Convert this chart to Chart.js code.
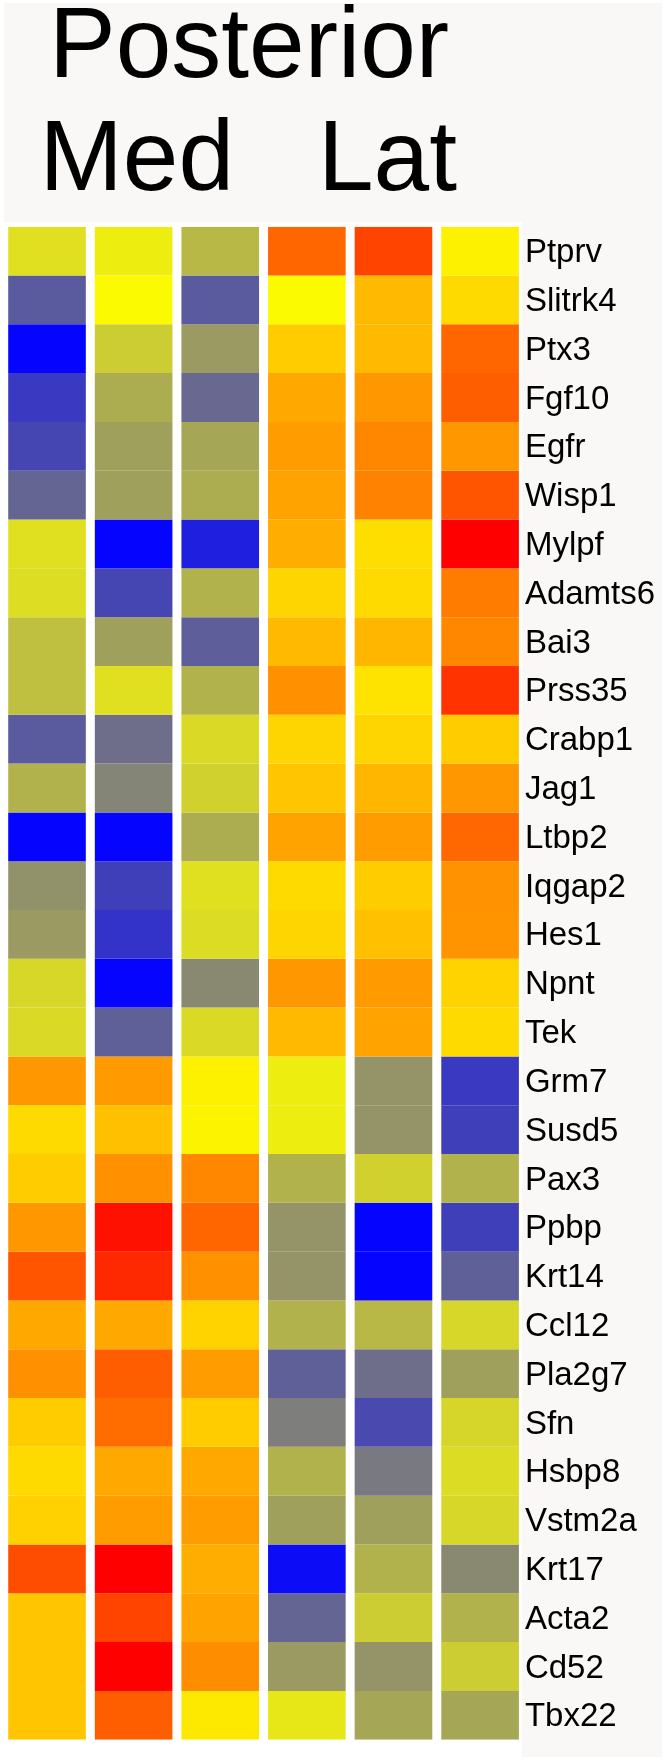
<!DOCTYPE html>
<html>
<head>
<meta charset="utf-8">
<script src="https://cdn.jsdelivr.net/npm/chart.js@4.4.0/dist/chart.umd.min.js"></script>
<style>
  html, body { margin: 0; padding: 0; background: #ffffff; }
  #wrap { width: 666px; height: 1761px; }
</style>
</head>
<body>
<div id="wrap"><canvas id="myChart" width="666" height="1761"></canvas></div>
<script>
// gene rows, top to bottom
var genes = ['Ptprv', 'Slitrk4', 'Ptx3', 'Fgf10', 'Egfr', 'Wisp1', 'Mylpf', 'Adamts6', 'Bai3', 'Prss35',
  'Crabp1', 'Jag1', 'Ltbp2', 'Iqgap2', 'Hes1', 'Npnt', 'Tek', 'Grm7', 'Susd5', 'Pax3', 'Ppbp',
  'Krt14', 'Ccl12', 'Pla2g7', 'Sfn', 'Hsbp8', 'Vstm2a', 'Krt17', 'Acta2', 'Cd52', 'Tbx22']

var columns = ['Med 1', 'Med 2', 'Med 3', 'Lat 1', 'Lat 2', 'Lat 3']

// relative expression (z-score like), one array per sample column
var med1 = [0.0, -1.2, -2.0, -1.6, -1.5, -1.05, 0.0, -0.02, -0.25, -0.25, -1.2, -0.35, -2.0, -0.62, -0.55,
  -0.07, -0.05, 1.15, 0.55, 0.7, 1.15, 1.7, 1.0, 1.22, 0.7, 0.55, 0.65, 1.75, 0.75, 0.75, 0.75]
var med2 = [0.1, 0.2, -0.15, -0.4, -0.5, -0.5, -2.0, -1.5, -0.5, 0.0, -0.95, -0.75, -2.0, -1.55, -1.65,
  -2.0, -1.12, 1.12, 0.8, 1.22, 1.95, 1.88, 1.0, 1.65, 1.55, 1.0, 1.1, 2.0, 1.8, 2.0, 1.65]
var med3 = [-0.3, -1.2, -0.55, -1.0, -0.45, -0.4, -1.8, -0.35, -1.15, -0.35, -0.05, -0.12, -0.4, 0.0, -0.03,
  -0.7, -0.05, 0.3, 0.28, 1.3, 1.6, 1.22, 0.62, 1.1, 0.7, 1.0, 1.1, 0.95, 1.05, 1.25, 0.4]
var lat1 = [1.6, 0.2, 0.7, 1.0, 1.1, 1.05, 0.95, 0.6, 0.85, 1.22, 0.6, 0.75, 1.05, 0.55, 0.6,
  1.15, 0.85, 0.1, 0.1, -0.35, -0.6, -0.6, -0.35, -1.12, -0.8, -0.35, -0.5, -1.95, -1.05, -0.55, 0.05]
var lat2 = [1.8, 0.85, 0.85, 1.15, 1.3, 1.35, 0.5, 0.55, 0.88, 0.45, 0.6, 0.88, 1.1, 0.7, 0.8,
  1.12, 1.05, -0.6, -0.6, -0.12, -2.0, -2.0, -0.3, -0.95, -1.45, -0.85, -0.5, -0.35, -0.15, -0.6, -0.45]
var lat3 = [0.3, 0.55, 1.6, 1.65, 1.15, 1.7, 2.0, 1.4, 1.3, 1.85, 0.7, 1.15, 1.58, 1.2, 1.18,
  0.62, 0.55, -1.6, -1.55, -0.35, -1.55, -1.12, -0.07, -0.5, -0.08, -0.03, -0.07, -0.7, -0.35, -0.15, -0.45]

var values = [med1, med2, med3, lat1, lat2, lat3]

// blue - olive - yellow - orange - red colour scale
var stops = [
  [-2.0, [5, 5, 255]], [-1.5, [70, 70, 178]], [-1.0, [104, 104, 144]], [-0.6, [148, 148, 104]],
  [-0.3, [184, 184, 70]], [0.0, [224, 224, 32]], [0.2, [252, 250, 0]], [0.7, [255, 204, 0]],
  [1.0, [255, 168, 0]], [1.6, [255, 102, 0]], [1.8, [255, 68, 0]], [2.0, [255, 0, 0]]
]

function heatColor(v) {
  if (v <= stops[0][0]) return 'rgb(' + stops[0][1].join(',') + ')'
  for (var i = 1; i < stops.length; i++) {
    if (v <= stops[i][0]) {
      var a = stops[i - 1], b = stops[i]
      var t = (v - a[0]) / (b[0] - a[0])
      var c = a[1].map(function (x, k) { return Math.round(x + (b[1][k] - x) * t) })
      return 'rgb(' + c.join(',') + ')'
    }
  }
  return 'rgb(' + stops[stops.length - 1][1].join(',') + ')'
}

var datasets = genes.map(function (g, r) {
  return {
    label: g,
    data: columns.map(function () { return 1 }),
    backgroundColor: values.map(function (col) { return heatColor(col[r]) }),
    borderWidth: 0,
    barPercentage: 0.896,
    categoryPercentage: 1.0,
    stack: 'heat'
  }
})

var backdrop = {
  id: 'backdrop',
  beforeDraw: function (chart) {
    var ctx = chart.ctx
    ctx.save()
    ctx.fillStyle = '#ffffff'
    ctx.fillRect(0, 0, chart.width, chart.height)
    ctx.fillStyle = '#f9f8f6'
    ctx.fillRect(4, 3, 658, 219)
    ctx.fillRect(522, 3, 140, 1754)
    ctx.restore()
  },
  afterDraw: function (chart) {
    var ctx = chart.ctx
    ctx.save()
    ctx.fillStyle = '#000000'
    ctx.font = '100px "Liberation Sans", Arial, sans-serif'
    ctx.textBaseline = 'alphabetic'
    ctx.textAlign = 'left'
    ctx.fillText('Posterior', 49, 77)
    ctx.fillText('Med', 39.5, 190)
    ctx.fillText('Lat', 318, 190)
    ctx.restore()
  }
}

var myChart = document.getElementById('myChart').getContext('2d')
var chart = new Chart(myChart, {
  type: 'bar',
  data: { labels: columns, datasets: datasets },
  options: {
    responsive: false,
    animation: false,
    devicePixelRatio: 1,
    layout: { padding: { left: 3.7, right: 0, top: 226.7, bottom: 15.3 } },
    plugins: { legend: { display: false }, title: { display: false }, tooltip: { enabled: false } },
    scales: {
      x: { display: false, stacked: true },
      y: { display: false, stacked: true, min: 0, max: 31, reverse: true },
      genes: {
        type: 'category',
        labels: genes,
        position: 'right',
        offset: true,
        grid: { display: false, drawTicks: false },
        border: { display: false },
        ticks: {
          color: '#000000',
          autoSkip: false,
          padding: 1.5,
          labelOffset: 2,
          font: { family: '"Liberation Sans", Arial, sans-serif', size: 33 }
        },
        afterFit: function (scale) { scale.width = 142.6 }
      }
    }
  },
  plugins: [backdrop]
})
</script>
</body>
</html>
